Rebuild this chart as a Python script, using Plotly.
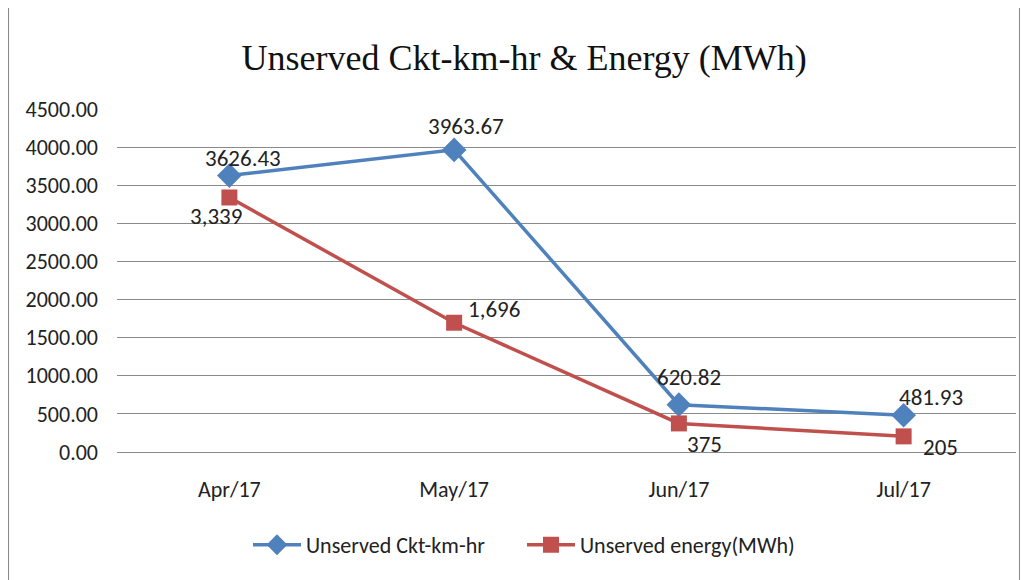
import plotly.graph_objects as go

months = ["Apr/17", "May/17", "Jun/17", "Jul/17"]
ckt_km_hr = [3626.43, 3963.67, 620.82, 481.93]
energy_mwh = [3339, 1696, 375, 205]
y_ticks = [0, 500, 1000, 1500, 2000, 2500, 3000, 3500, 4000, 4500]

BLUE = "#4F81BD"
RED = "#C0504D"
FONT = "Carlito, 'Liberation Sans Narrow', 'Arial Narrow', sans-serif"

fig = go.Figure()
fig.add_trace(go.Scatter(
    x=months, y=ckt_km_hr, mode="lines+markers", name="Unserved Ckt-km-hr",
    line=dict(color=BLUE, width=3.5),
    marker=dict(symbol="diamond", size=19, color=BLUE),
))
fig.add_trace(go.Scatter(
    x=months, y=energy_mwh, mode="lines+markers", name="Unserved energy(MWh)",
    line=dict(color=RED, width=3.5),
    marker=dict(symbol="square", size=16, color=RED),
))

# data labels
blue_shift = [(14, 18), (12, 24), (10, 28), (27, 18)]
red_shift = [(-13, -19), (40, 14), (26, -21), (37, -11)]
for m, v, (dx, dy) in zip(months, ckt_km_hr, blue_shift):
    fig.add_annotation(x=m, y=v, text=f"{v:.2f}", showarrow=False,
                       xshift=dx, yshift=dy, font=dict(family=FONT, size=23, color="#222"))
for m, v, (dx, dy) in zip(months, energy_mwh, red_shift):
    fig.add_annotation(x=m, y=v, text=f"{v:,}", showarrow=False,
                       xshift=dx, yshift=dy, font=dict(family=FONT, size=23, color="#222"))

# outer border
fig.add_shape(type="rect", xref="paper", yref="paper",
              x0=-0.1212, x1=1.0044, y0=-0.45, y1=1.306,
              line=dict(color="#8a8a8a", width=2), layer="below")

fig.update_layout(
    width=1020, height=572,
    margin=dict(l=109, r=12, t=101, b=128),
    paper_bgcolor="white", plot_bgcolor="white",
    title=dict(text="Unserved Ckt-km-hr & Energy (MWh)", x=0.506, xanchor="center",
               y=0.914, yanchor="middle",
               font=dict(family="'Liberation Serif', 'Times New Roman', serif", size=36, color="#111")),
    xaxis=dict(type="category", range=[-0.5, 3.5], showgrid=False, showline=False,
               zeroline=False, ticks="", ticklabelstandoff=22,
               tickfont=dict(family=FONT, size=22, color="#222")),
    yaxis=dict(range=[0, 4500], tickvals=y_ticks, tickformat=".2f",
               showgrid=True, gridcolor="#8a8a8a", gridwidth=1,
               zeroline=True, zerolinecolor="#8a8a8a", zerolinewidth=1,
               showline=False, ticks="", ticklabelstandoff=18,
               tickfont=dict(family=FONT, size=22, color="#222")),
    legend=dict(orientation="h", x=0.4505, xanchor="center", y=-0.271, yanchor="middle",
                font=dict(family=FONT, size=22, color="#222"), itemwidth=48,
                entrywidth=211, traceorder="normal"),
    showlegend=True,
)

fig.write_html("out.html")
